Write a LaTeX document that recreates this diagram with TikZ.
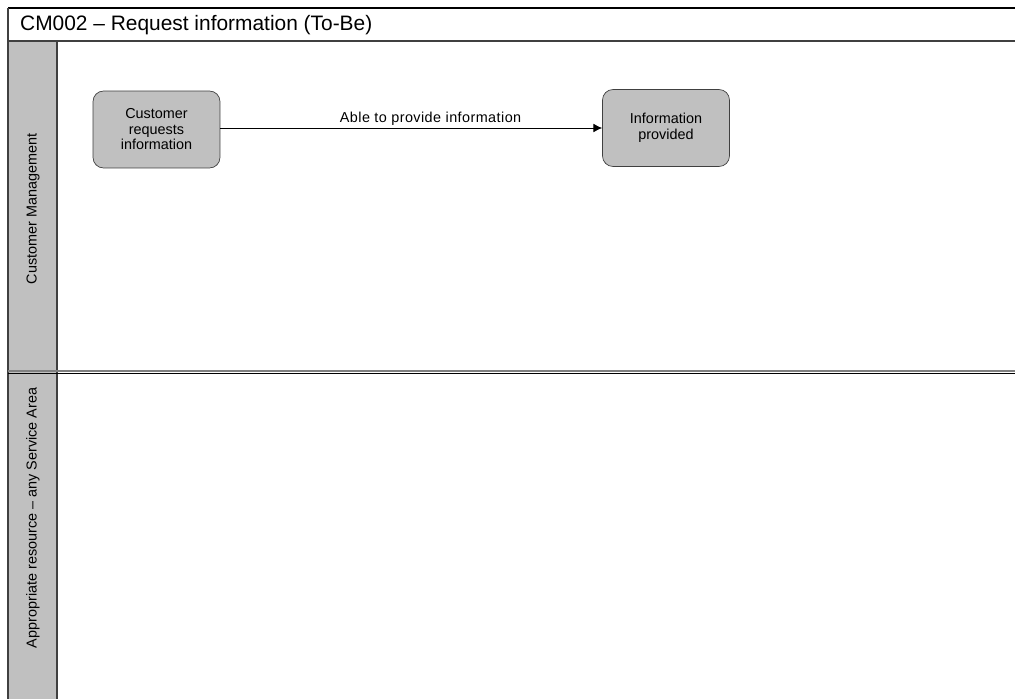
\documentclass[tikz,border=0pt]{standalone}
\usepackage{fontspec}
\setmainfont{Liberation Sans}
\usepackage{tikz}
\usetikzlibrary{calc, positioning, arrows.meta}
\usepackage{xcolor}
\definecolor{laneGray}{RGB}{192, 192, 192}
\definecolor{edgeGray}{RGB}{64, 64, 64}

\begin{document}
\begin{tikzpicture}[>={Latex[length=5pt, width=5pt]}, x=0.02cm, y=-0.02cm,
    font=\fontsize{8.2}{8.8}\selectfont,
    task/.style={draw=edgeGray, fill=laneGray, rounded corners=6pt, align=center,
      minimum width=2.54cm, minimum height=1.54cm, inner sep=2pt}]
  \useasboundingbox (0,0) rectangle (1015,699);
  \fill[white] (0,0) rectangle (1015,699);

  % Pool frame and title
  \fill[laneGray] (8,41) rectangle (57,699);
  \draw[line width=0.9pt] (8,8) -- (1015,8);
  \draw[edgeGray, line width=0.7pt] (8,41) -- (1015,41);
  \draw[edgeGray, line width=0.8pt] (8,8) -- (8,699);
  \draw[edgeGray, line width=0.8pt] (57,41) -- (57,699);
  \node[anchor=west, font=\fontsize{11.9}{13}\selectfont] (title) at (14,25)
    {CM002 -- Request information (To-Be)};

  % Lane divider
  \draw[gray, line width=0.7pt] (8,371) -- (1015,371);
  \draw[black, line width=0.6pt] (8,373.5) -- (1015,373.5);

  % Lane labels
  \node[rotate=90] (laneCM) at (33,209) {Customer Management};
  \node[rotate=90] (laneSA) at (33,518) {Appropriate resource -- any Service Area};

  % Tasks
  \node[task] (request) at (156.5,129.5) {Customer\\requests\\information};
  \node[task] (provided) at (666,128) {Information\\provided};

  % Flow
  \draw[->, line width=0.5pt] (request.east |- 0,128) -- node[above, inner sep=1pt, xshift=11pt] (flowLabel)
    {\addfontfeature{LetterSpace=3}Able to provide information} (provided.west |- 0,128);
\end{tikzpicture}
\end{document}
